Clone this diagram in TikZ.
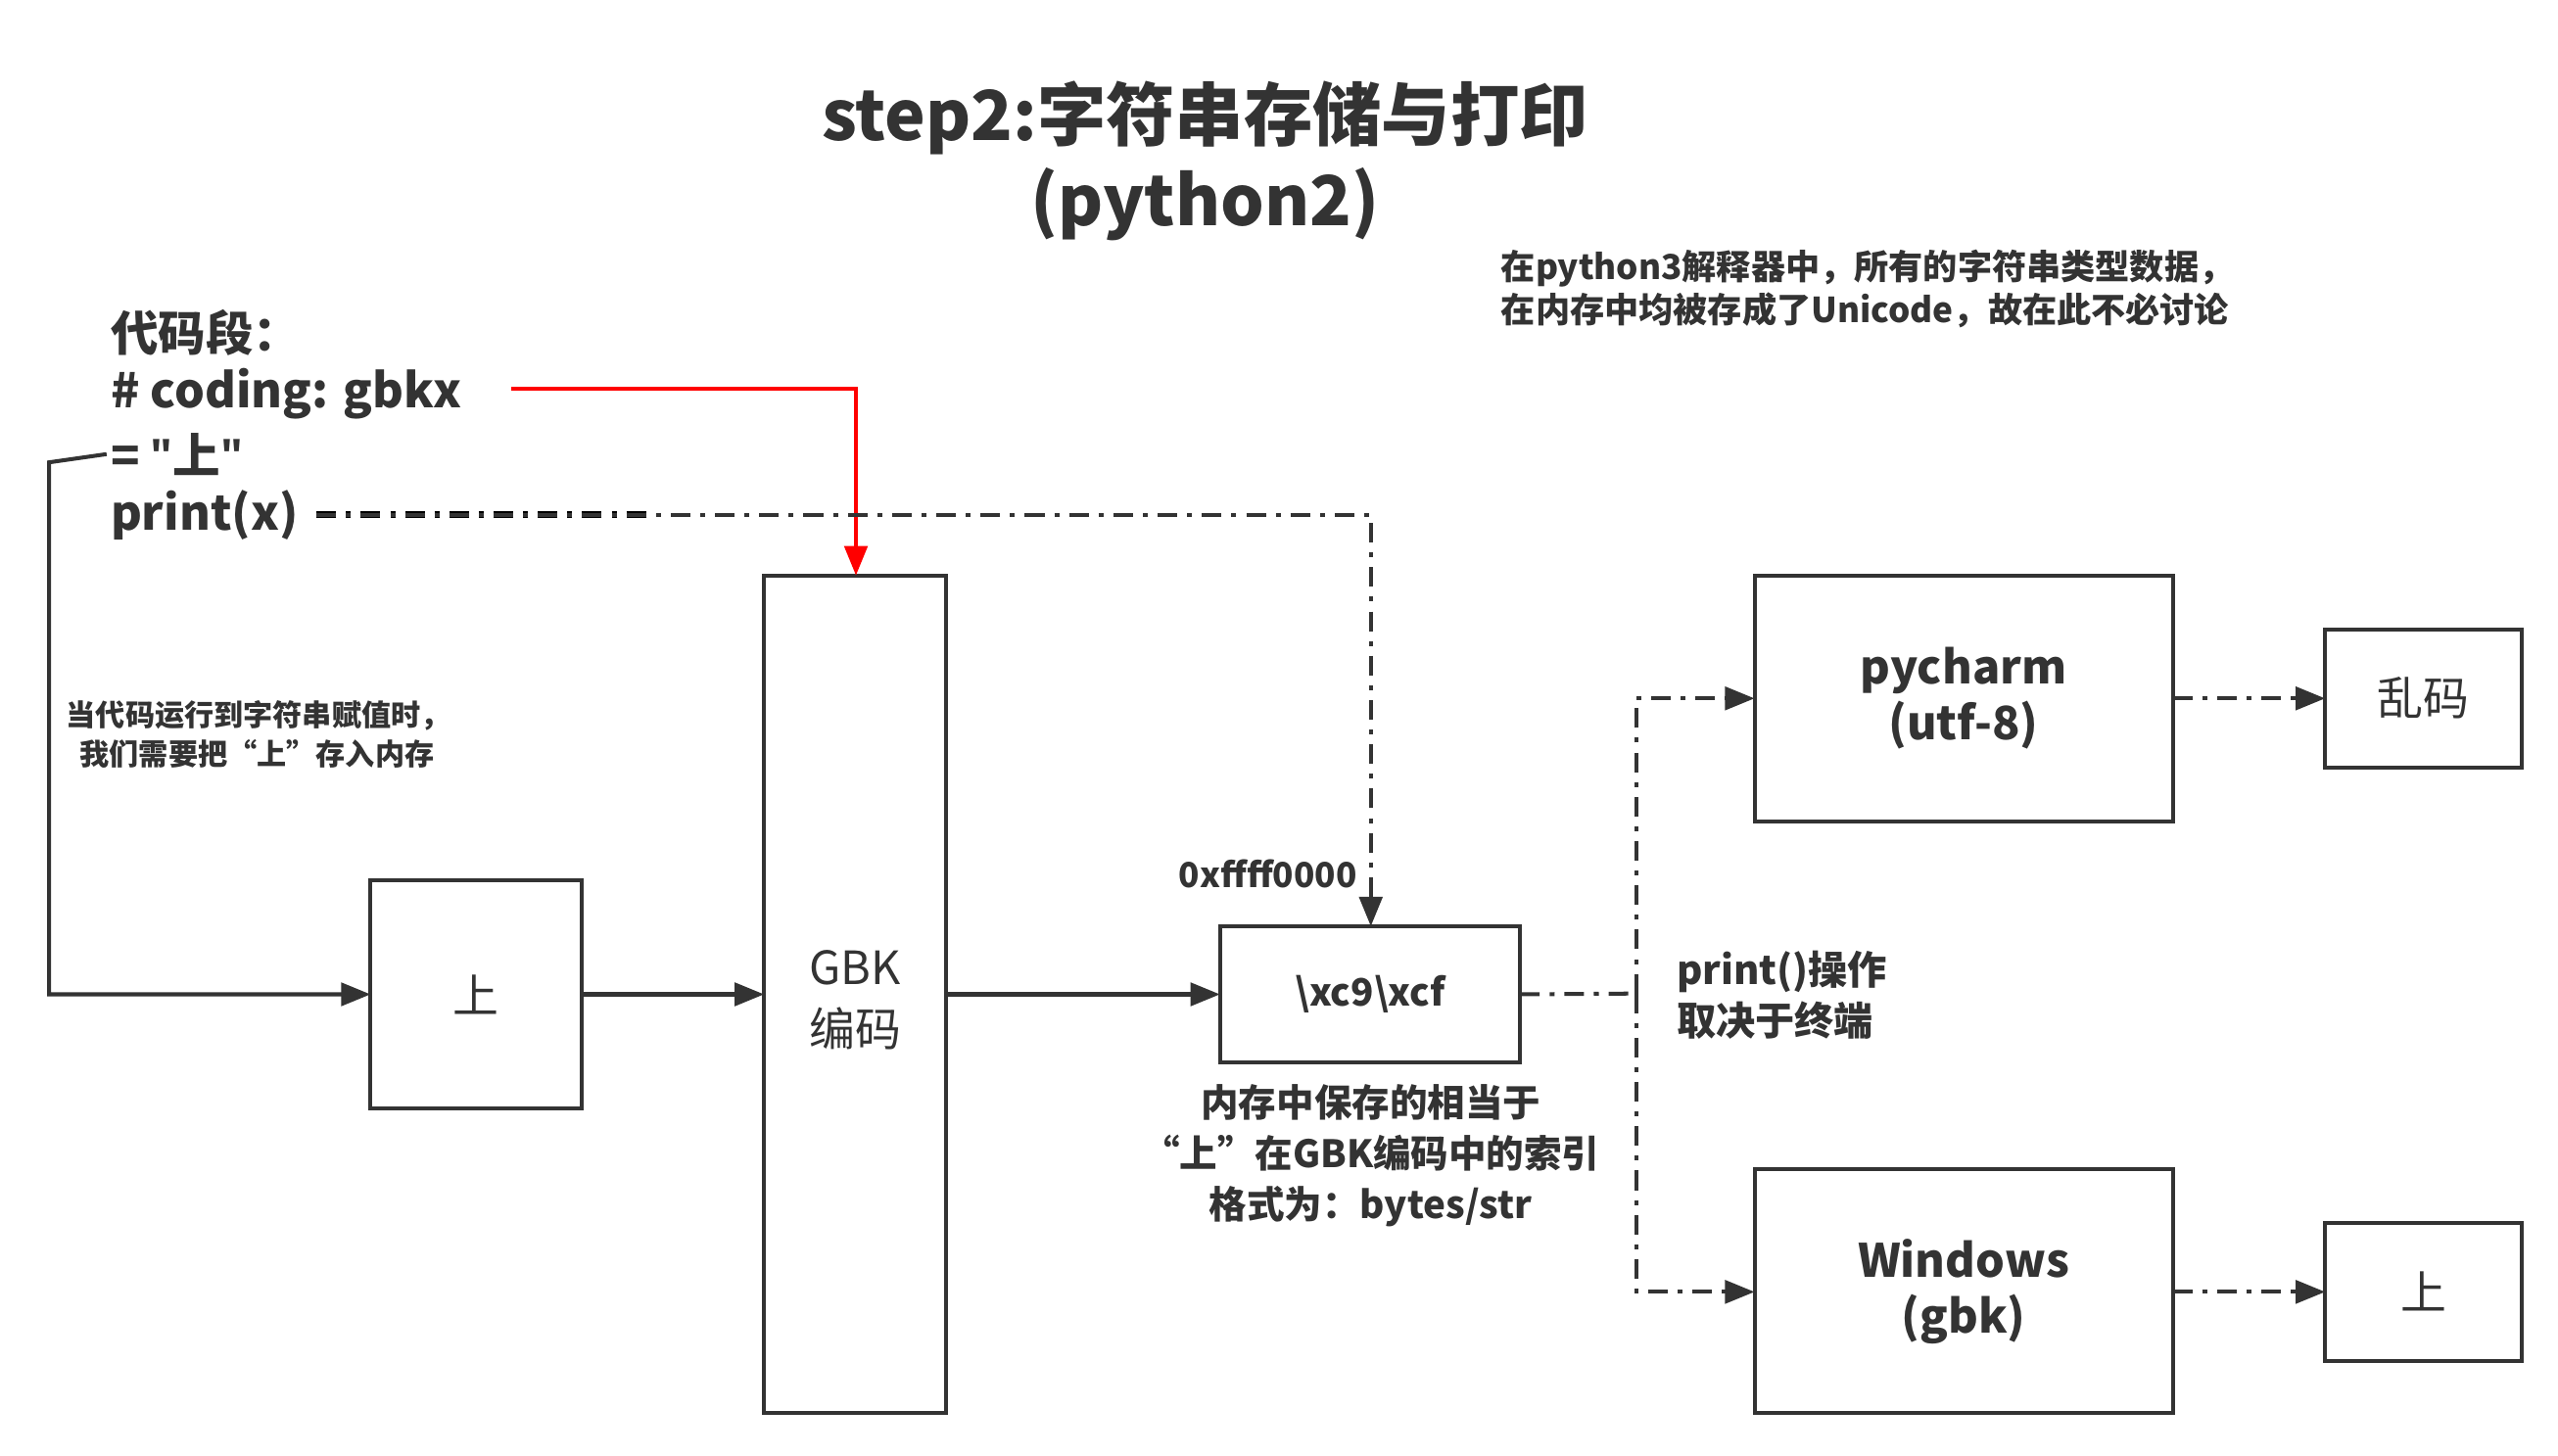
\documentclass[tikz,border=0pt]{standalone}
\usepackage{fontspec}
\setmainfont{Noto Sans CJK SC}
\newfontfamily\latn{Open Sans}
\usetikzlibrary{arrows.meta}
\definecolor{ink}{RGB}{51,51,51}
\tikzset{every picture/.style={line width=1pt}}
\tikzset{
  box/.style={draw=ink,line width=1.2pt,inner sep=0pt},
  arr/.style={draw=ink,line width=1.2pt,-{Triangle[length=9pt,width=7pt]}},
  dd/.style={dash pattern=on 6pt off 3pt on 1.5pt off 3pt},
  txt/.style={inner sep=0.75pt,text=ink,font=\bfseries}
}
\begin{document}
\begin{tikzpicture}[x=0.5pt,y=0.5pt,yscale=-1,xscale=1]
\useasboundingbox (0,0) rectangle (1560,888);

% Title
\node[txt,align=center,font=\bfseries\fontsize{21}{26}\selectfont] (title) at (735,98) {step2:字符串存储与打印\\(python2)};
% Text Node
\node[txt,anchor=north west,align=left,font=\bfseries\fontsize{10.5}{13}\selectfont] (note) at (913,150) {在python3解释器中，所有的字符串类型数据，\\在内存中均被存成了Unicode，故在此不必讨论};

% code lines
\node[txt,anchor=west,font=\bfseries\fontsize{14.5}{18}\selectfont] (c0) at (65,203) {代码段：};
\node[txt,anchor=west,font=\bfseries\fontsize{14.5}{18}\selectfont] (c1) at (65,240) {\# coding: gbkx};
\node[txt,anchor=west,font=\bfseries\fontsize{14.5}{18}\selectfont] (c2) at (65,277) {= {\latn\bfseries\char"22}上{\latn\bfseries\char"22}};
\node[txt,anchor=west,font=\bfseries\fontsize{14.5}{18}\selectfont] (c3) at (65,314) {print(x)};
\node[txt,anchor=north west,align=left,font=\bfseries\fontsize{9}{12}\selectfont] (assign) at (38,425) {当代码运行到字符串赋值时，\\\ \ 我们需要把“上”存入内存};

% Boxes
\draw[box] (226,537) rectangle (355,676);
\node[text=ink,font=\fontsize{14}{17}\selectfont] (shang) at (290.5,606.5) {上};
\draw[box] (466,351) rectangle (577,862);
\node[text=ink,align=center,font=\fontsize{14}{19}\selectfont] (gbk) at (521.5,610) {GBK\\编码};
\coordinate (gbkT) at (522,351);
\draw[box] (744,565) rectangle (927,648);
\node[txt,font=\bfseries\fontsize{11.5}{14}\selectfont] (mem) at (835.5,606.5) {\textbackslash xc9\textbackslash xcf};
\coordinate (memT) at (836,565);
\draw[box] (1070,351) rectangle (1325,501);
\node[txt,align=center,font=\bfseries\fontsize{14}{17}\selectfont] (pyc) at (1197.5,426) {pycharm\\(utf-8)};
\draw[box] (1070,713) rectangle (1325,862);
\node[txt,align=center,font=\bfseries\fontsize{14}{17}\selectfont] (win) at (1197.5,788) {Windows\\(gbk)};
\draw[box] (1418,384) rectangle (1538,468);
\node[text=ink,font=\fontsize{14}{17}\selectfont] (luan) at (1478,426) {乱码};
\draw[box] (1418,746) rectangle (1538,830);
\node[text=ink,font=\fontsize{14}{17}\selectfont] (shang2) at (1478,788) {上};

% Text Node
\node[txt,anchor=east,font=\bfseries\fontsize{10.5}{13}\selectfont] (addr) at (830,533) {0xffff0000};
\node[txt,align=center,font=\bfseries\fontsize{11.5}{15.5}\selectfont] (memnote) at (836,705) {内存中保存的相当于\\“上”在GBK编码中的索引\\格式为：bytes/str};
\node[txt,anchor=west,align=left,font=\bfseries\fontsize{12}{15.5}\selectfont] (prt) at (1020,607) {print()操作\\取决于终端};

% Connectors
\coordinate (split) at (998,606);
\draw[red,line width=1.2pt,-{Triangle[length=9pt,width=7pt]}] (312,237) -| (gbkT);
\draw[black,line width=2pt,dd] (193,314) -- (400,314);
\draw[arr,dd] (193,314) -| (memT);
\draw[arr] (c2.west) -- (30,282) |- (226,606.5);
\draw[arr] (355,606.5) -- (466,606.5);
\draw[arr] (577,606.5) -- (744,606.5);
\draw[ink,line width=1.2pt,dd] (927,606.5) -- (split);
\draw[arr,dd] (split) |- (1070,426);
\draw[arr,dd] (split) |- (1070,788);
\draw[arr,dd] (1325,426) -- (1418,426);
\draw[arr,dd] (1325,788) -- (1418,788);
\end{tikzpicture}
\end{document}
